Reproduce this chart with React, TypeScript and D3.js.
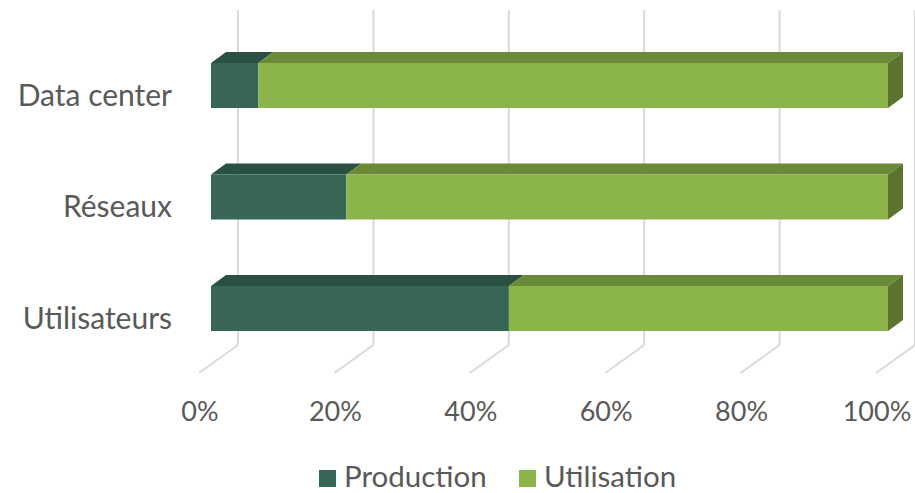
import React from "react";
import * as d3 from "d3";

const categories = ["Data center", "Réseaux", "Utilisateurs"];
const seriesNames = ["Production", "Utilisation"];
const production = [0.07, 0.2, 0.44];
const utilisation = [0.93, 0.8, 0.56];
const tickValues = [0, 0.2, 0.4, 0.6, 0.8, 1];

const W = 915;
const H = 493;
const FONT = "Lato, 'Open Sans', sans-serif";
const TEXT = "#595959";
const GRID = "#d9d9d9";

const colors = {
  Production: { front: "#376656", top: "#2a5044", side: "#24463b" },
  Utilisation: { front: "#8bb54b", top: "#6b8a39", side: "#5b7530" },
};

// depth of the 3D box
const DX = 39;
const DY = 28;
// bar occupies the middle of the depth
const BAR_DX = 15;
const BAR_DY = 11;
const BAR_OFF_X = 12;

export default function App() {
  const x = d3.scaleLinear().domain([0, 1]).range([211, 888]);
  const y = d3
    .scaleBand<string>()
    .domain(categories)
    .range([29.75, 364.25])
    .paddingInner(0.5964)
    .paddingOuter(0.2982);

  const floorFront = 373;
  const floorBack = floorFront - DY;
  const wallTop = 10;

  const stacked = categories.map((c, i) => {
    const vals = [production[i], utilisation[i]];
    let acc = 0;
    return vals.map((v, k) => {
      const s = { cat: c, name: seriesNames[k], x0: acc, x1: acc + v };
      acc += v;
      return s;
    });
  });

  const pts = (arr: number[][]) => arr.map((p) => p.join(",")).join(" ");

  const legendY = 478;
  const sq = 17;

  return (
    <svg width={W} height={H} style={{ position: "absolute", left: 0, top: 0, background: "#fff" }}>
      {tickValues.map((t, i) => {
        const fx = x(t) - BAR_OFF_X;
        const bx = fx + DX;
        return (
          <g key={i}>
            <line x1={bx} x2={bx} y1={wallTop} y2={floorBack} stroke={GRID} strokeWidth={2} />
            <line x1={bx} x2={fx} y1={floorBack} y2={floorFront} stroke={GRID} strokeWidth={2} />
          </g>
        );
      })}

      {stacked.map((segs, i) =>
        segs.map((s, k) => {
          const y0 = y(s.cat) as number;
          const bh = y.bandwidth();
          const xa = x(s.x0);
          const xb = x(s.x1);
          const c = colors[s.name as keyof typeof colors];
          const isLast = k === segs.length - 1;
          return (
            <g key={`${i}-${k}`}>
              <polygon
                points={pts([
                  [xa, y0],
                  [xb, y0],
                  [xb + BAR_DX, y0 - BAR_DY],
                  [xa + BAR_DX, y0 - BAR_DY],
                ])}
                fill={c.top}
              />
              <rect x={xa} y={y0} width={xb - xa} height={bh} fill={c.front} />
              {isLast && (
                <polygon
                  points={pts([
                    [xb, y0],
                    [xb + BAR_DX, y0 - BAR_DY],
                    [xb + BAR_DX, y0 + bh - BAR_DY],
                    [xb, y0 + bh],
                  ])}
                  fill={c.side}
                />
              )}
            </g>
          );
        })
      )}

      {categories.map((c) => (
        <text
          key={c}
          x={172}
          y={(y(c) as number) + y.bandwidth() / 2 + 20}
          textAnchor="end"
          fontFamily={FONT}
          fontSize={30}
          fill={TEXT}
        >
          {c}
        </text>
      ))}

      {tickValues.map((t, i) => (
        <text
          key={i}
          x={x(t) - BAR_OFF_X + 1}
          y={421}
          textAnchor="middle"
          fontFamily={FONT}
          fontSize={27}
          fill={TEXT}
        >
          {d3.format(".0%")(t)}
        </text>
      ))}

      {seriesNames.map((n, i) => {
        const lx = i === 0 ? 319 : 519;
        return (
          <g key={n}>
            <rect x={lx} y={legendY - 8} width={sq} height={sq} fill={colors[n as keyof typeof colors].front} />
            <text x={lx + sq + 8} y={legendY + 9} fontFamily={FONT} fontSize={29.5} fill={TEXT}>
              {n}
            </text>
          </g>
        );
      })}
    </svg>
  );
}
